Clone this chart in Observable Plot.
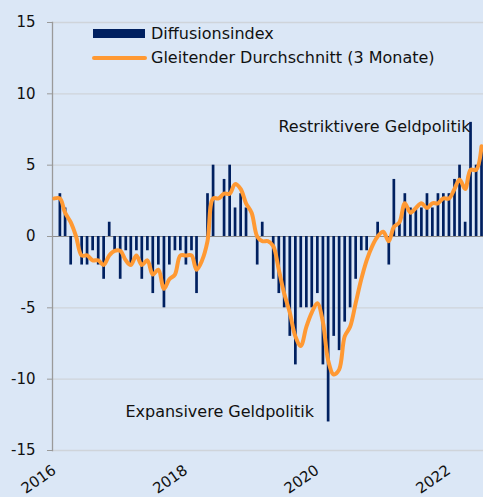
<!DOCTYPE html>
<html><head><meta charset="utf-8">
<script src="https://cdn.jsdelivr.net/npm/d3@7"></script>
<script src="https://cdn.jsdelivr.net/npm/@observablehq/plot@0.6"></script>
<style>
html,body{margin:0;padding:0;background:#dbe7f6;}
#wrap{position:relative;width:483px;height:497px;overflow:hidden;font-family:"DejaVu Sans",sans-serif;color:#111;}
#wrap svg{display:block;background:transparent;}
.leg{position:absolute;left:0;top:0;font-size:16px;line-height:1;}
.item{position:absolute;white-space:nowrap;}
.sw{position:absolute;}
</style></head><body><div id="wrap"></div>
<script>
// Monthly categories, Jan 2016 – Jul 2022
const months = [
 "2016-01","2016-02","2016-03","2016-04","2016-05","2016-06","2016-07","2016-08","2016-09","2016-10","2016-11","2016-12",
 "2017-01","2017-02","2017-03","2017-04","2017-05","2017-06","2017-07","2017-08","2017-09","2017-10","2017-11","2017-12",
 "2018-01","2018-02","2018-03","2018-04","2018-05","2018-06","2018-07","2018-08","2018-09","2018-10","2018-11","2018-12",
 "2019-01","2019-02","2019-03","2019-04","2019-05","2019-06","2019-07","2019-08","2019-09","2019-10","2019-11","2019-12",
 "2020-01","2020-02","2020-03","2020-04","2020-05","2020-06","2020-07","2020-08","2020-09","2020-10","2020-11","2020-12",
 "2021-01","2021-02","2021-03","2021-04","2021-05","2021-06","2021-07","2021-08","2021-09","2021-10","2021-11","2021-12",
 "2022-01","2022-02","2022-03","2022-04","2022-05","2022-06","2022-07"
];
// Diffusionsindex
const diffusion = [
 0, 3, 2, -2, 0, -2, -2, -1, -2, -3, 1, -1,
 -3, -1, -2, -1, -3, -1, -4, -2, -5, -2, -1, -1,
 -2, -1, -4, 0, 3, 5, 0, 4, 5, 2, 3, 2,
 0, -2, 1, 0, -3, -4, -5, -7, -9, -5, -5, -5,
 -4, -9, -13, -7, -8, -6, -5, -3, -1, -1, 0, 1,
 0, -2, 4, 1, 3, 2, 2, 2, 3, 2, 3, 3,
 3, 4, 5, 1, 8, 5, 6
];
// Gleitender Durchschnitt (3 Monate)
const movingAvg = [
 2.67, 2.67, 1.67, 1.0, 0.0, -1.33, -1.33, -1.67, -1.67, -2.0, -1.33, -1.0,
 -1.0, -1.67, -2.0, -1.33, -2.0, -1.67, -2.67, -2.33, -3.67, -3.0, -2.67, -1.33,
 -1.33, -1.33, -2.33, -1.67, -0.33, 2.67, 2.67, 3.0, 3.0, 3.67, 3.33, 2.33,
 1.67, 0.0, -0.33, -0.33, -0.67, -2.33, -4.0, -5.33, -7.0, -7.67, -6.33, -5.33,
 -4.67, -6.0, -8.67, -9.67, -9.33, -7.0, -6.33, -4.67, -3.0, -1.67, -0.67, 0.0,
 0.33, -0.33, 0.67, 1.0, 2.33, 1.67, 2.0, 2.33, 2.0, 2.33, 2.33, 2.67,
 2.67, 3.33, 4.0, 3.33, 4.67, 4.67, 6.33
];
const yTicks = [-15, -10, -5, 0, 5, 10, 15];
const xTickYears = ["2016", "2018", "2020", "2022"];
const xDomain = ["2015-12-22", "2022-07-12"];
const seriesNames = ["Diffusionsindex", "Gleitender Durchschnitt (3 Monate)"];
const annotations = [
  {label: "Restriktivere Geldpolitik", date: "2019-05-30", value: 7.68},
  {label: "Expansivere Geldpolitik", date: "2017-01-30", value: -12.29}
];

const NAVY = "#002060", ORANGE = "#ff9933";
const parse = d3.utcParse("%Y-%m");
const rows = months.map((m, i) => ({date: parse(m), diff: diffusion[i], ma: movingAvg[i]}));
const ann = annotations.map(a => ({...a, date: d3.utcParse("%Y-%m-%d")(a.date)}));

const chart = Plot.plot({
  width: 483, height: 497,
  marginLeft: 52, marginRight: 0, marginTop: 22, marginBottom: 47,
  style: {background: "transparent", fontFamily: "DejaVu Sans, sans-serif", fontSize: "15px", color: "#111", overflow: "visible"},
  x: {type: "utc", domain: xDomain.map(d => d3.utcParse("%Y-%m-%d")(d))},
  y: {domain: [-15, 15]},
  marks: [
    Plot.ruleY(yTicks.filter(t => t !== 0), {stroke: "#cfd4da", strokeWidth: 1.3}),
    Plot.ruleY([0], {stroke: "#8c8c8c", strokeWidth: 1.2}),
    Plot.frame({anchor: "left", stroke: "#9a9a9a", strokeWidth: 1.3}),
    Plot.axisY({ticks: yTicks, tickFormat: d => String(d), tickSize: 5, tickPadding: 12, stroke: "#9a9a9a", fontSize: 15, label: null}),
    Plot.axisX({ticks: xTickYears.map(y => d3.utcParse("%Y")(y)), tickFormat: d3.utcFormat("%Y"), tickRotate: -35, tickSize: 0, tickPadding: 18, fontSize: 15, label: null}),
    Plot.ruleX(rows, {x: "date", y1: 0, y2: "diff", stroke: NAVY, strokeWidth: 2.7}),
    Plot.line(rows, {x: "date", y: "ma", stroke: ORANGE, strokeWidth: 4, curve: "catmull-rom"}),
    Plot.text(ann, {x: "date", y: "value", text: "label", textAnchor: "start", fontSize: 16, fill: "#111"})
  ]
});
const wrap = document.getElementById("wrap");
wrap.appendChild(chart);

// Legend (overlay above the plot area)
const leg = document.createElement("div");
leg.className = "leg";
leg.innerHTML = `
 <div class="sw" style="left:93px;top:29px;width:52px;height:9px;background:${NAVY}"></div>
 <div class="item" style="left:151px;top:26px;">${seriesNames[0]}</div>
 <div class="sw" style="left:92px;top:56px;width:55px;height:4px;background:${ORANGE};border-radius:2px"></div>
 <div class="item" style="left:151px;top:50px;">${seriesNames[1]}</div>`;
wrap.appendChild(leg);
</script></body></html>
